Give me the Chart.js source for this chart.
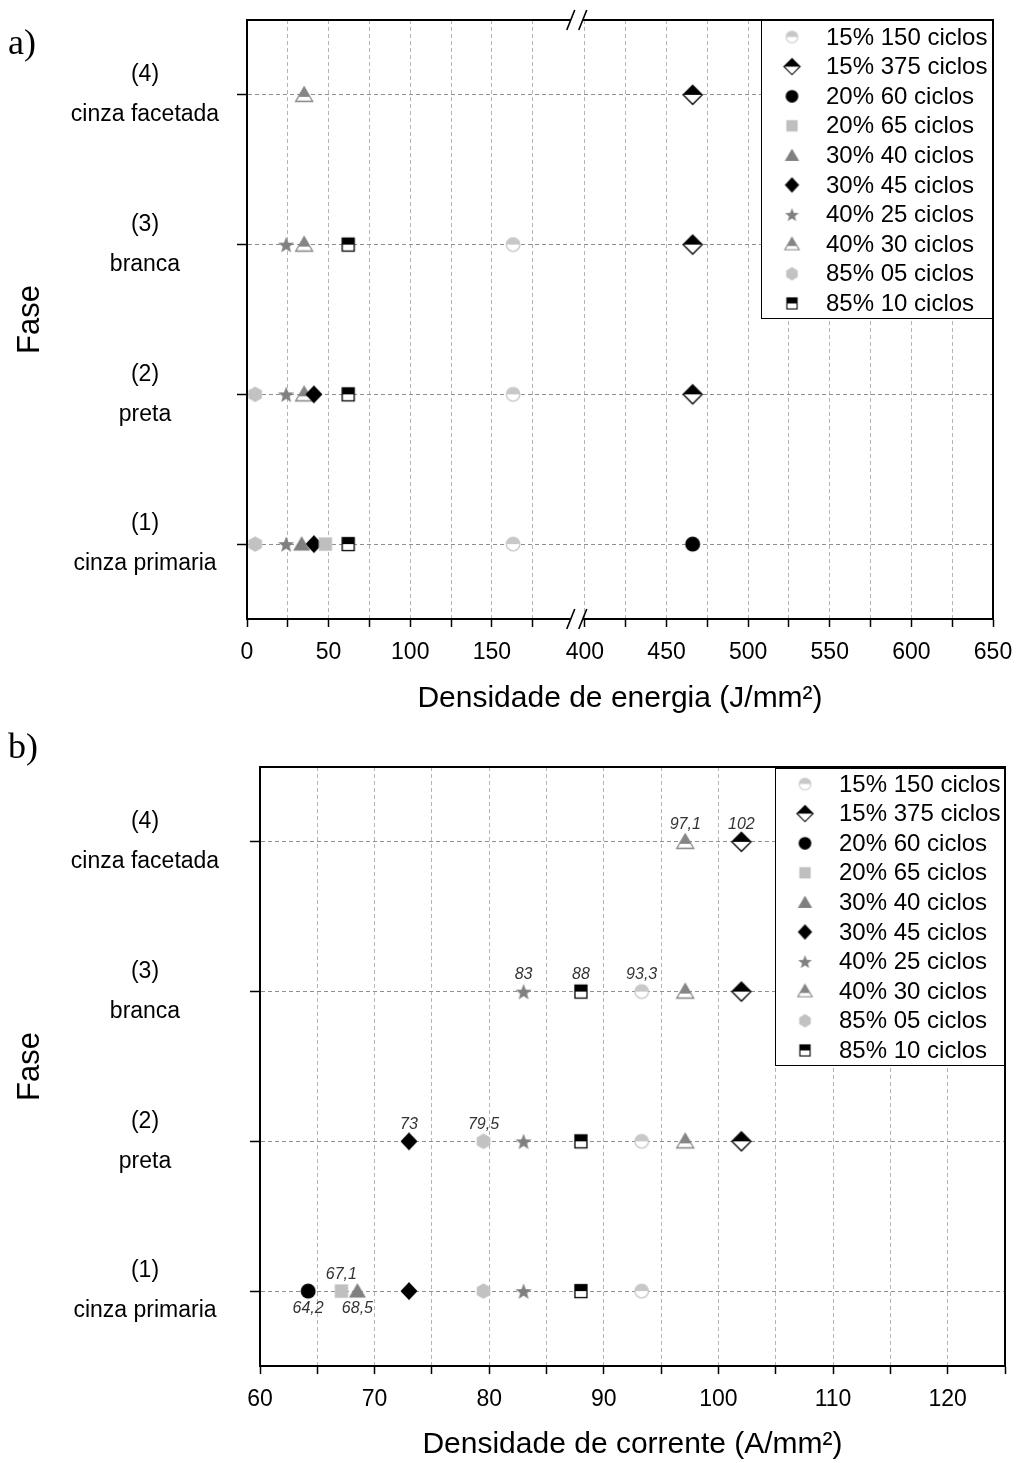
<!DOCTYPE html>
<html>
<head>
<meta charset="utf-8">
<script src="https://cdn.jsdelivr.net/npm/chart.js@4.4.0/dist/chart.umd.min.js"></script>
<style>
  body { margin: 0; background: #fff; width: 1017px; height: 1463px; position: relative; overflow: hidden; }
  .painel { position: absolute; left: 0; width: 1017px; }
  #pa { top: 0; height: 735px; }
  #pb { top: 735px; height: 728px; }
  .letra { position: absolute; left: 8px; font-family: 'Liberation Serif', 'Times New Roman', serif; font-size: 36px; line-height: 36px; color: #000; }
</style>
</head>
<body>
<div class="painel" id="pa"><canvas id="graficoA"></canvas></div>
<div class="painel" id="pb"><canvas id="graficoB"></canvas></div>
<div class="letra" style="top:24px">a)</div>
<div class="letra" style="top:728px">b)</div>
<script>
// series (amostras)
const series = ['15% 150 ciclos', '15% 375 ciclos', '20% 60 ciclos', '20% 65 ciclos', '30% 40 ciclos',
                '30% 45 ciclos', '40% 25 ciclos', '40% 30 ciclos', '85% 05 ciclos', '85% 10 ciclos'];
// fases 1..4 (rotulos do eixo y)
const fases = [['(1)', 'cinza primaria'], ['(2)', 'preta'], ['(3)', 'branca'], ['(4)', 'cinza facetada']];

// densidade de energia (J/mm²) por fase 1..4, null = sem ponto
const energia = [
  [163, 163, 163, null],
  [null, 466, 466, 466],
  [466, null, null, null],
  [48, null, null, null],
  [33.5, null, null, null],
  [41, 41, null, null],
  [24, 24, 24, null],
  [null, 35, 35, 35],
  [5, 5, null, null],
  [62, 62, 62, null]
];
// densidade de corrente (A/mm²) por fase 1..4
const corrente = [
  [93.3, 93.3, 93.3, null],
  [null, 102, 102, 102],
  [64.2, null, null, null],
  [67.1, null, null, null],
  [68.5, null, null, null],
  [73, 73, null, null],
  [83, 83, 83, null],
  [null, 97.1, 97.1, 97.1],
  [79.5, 79.5, null, null],
  [88, 88, 88, null]
];

const ticksEnergia = [0, 25, 50, 75, 100, 125, 150, 175, 400, 425, 450, 475, 500, 525, 550, 575, 600, 625, 650];
const ticksCorrente = [60, 65, 70, 75, 80, 85, 90, 95, 100, 105, 110, 115, 120, 125];

// pontos com valor escrito no grafico b): [serie, fase]
const rotulosAcima = [[7, 4], [1, 4], [6, 3], [9, 3], [0, 3], [5, 2], [8, 2], [3, 1]];
const rotulosAbaixo = [[2, 1], [4, 1]];

// eixo quebrado: 175 -> 400
const DESLOC = 193;
const eixoE = v => v >= 400 ? v - DESLOC : v;
const inversoE = v => v > 204 ? v + DESLOC : v;

const estilos = [
  { forma: 'circuloMeio', cor: '#c8c8c8' },
  { forma: 'losangoMeio', cor: '#000' },
  { forma: 'circulo', cor: '#000' },
  { forma: 'quadrado', cor: '#bfbfbf' },
  { forma: 'triangulo', cor: '#808080' },
  { forma: 'losango', cor: '#000' },
  { forma: 'estrela', cor: '#808080' },
  { forma: 'trianguloMeio', cor: '#858585' },
  { forma: 'hexagono', cor: '#c2c2c2' },
  { forma: 'quadradoMeio', cor: '#000' }
];

const fonte = "'Liberation Sans', Arial, sans-serif";
Chart.defaults.font.family = fonte;
Chart.defaults.color = '#000';

function criarMarcador(estilo, k) {
  const t = Math.ceil(24 * k);
  const c = document.createElement('canvas');
  c.width = c.height = t;
  const g = c.getContext('2d');
  g.translate(t / 2, t / 2);
  g.scale(k, k);
  const cor = estilo.cor;
  g.lineWidth = 1.3;
  g.strokeStyle = cor;
  g.fillStyle = cor;
  const caminho = pts => {
    g.beginPath();
    pts.forEach((p, i) => i ? g.lineTo(p[0], p[1]) : g.moveTo(p[0], p[1]));
    g.closePath();
  };
  switch (estilo.forma) {
    case 'circulo':
      g.beginPath(); g.arc(0, 0, 7.5, 0, Math.PI * 2); g.fill();
      break;
    case 'circuloMeio':
      g.beginPath(); g.arc(0, 0, 6.8, 0, Math.PI * 2); g.fillStyle = '#fff'; g.fill();
      g.beginPath(); g.arc(0, 0, 6.8, Math.PI, 0); g.closePath(); g.fillStyle = cor; g.fill();
      g.beginPath(); g.arc(0, 0, 6.8, 0, Math.PI * 2); g.stroke();
      break;
    case 'quadrado':
      g.fillRect(-6.7, -6.7, 13.4, 13.4);
      break;
    case 'quadradoMeio':
      g.fillStyle = '#fff'; g.fillRect(-6, -6.5, 12, 13);
      g.fillStyle = cor; g.fillRect(-6, -6.5, 12, 6.5);
      g.strokeRect(-6, -6.5, 12, 13);
      break;
    case 'losango':
      caminho([[0, -9], [8.5, 0], [0, 9], [-8.5, 0]]); g.fill();
      break;
    case 'losangoMeio':
      caminho([[0, -9.5], [9.5, 0], [0, 9.5], [-9.5, 0]]); g.fillStyle = '#fff'; g.fill();
      caminho([[0, -9.5], [9.5, 0], [-9.5, 0]]); g.fillStyle = cor; g.fill();
      caminho([[0, -9.5], [9.5, 0], [0, 9.5], [-9.5, 0]]); g.stroke();
      break;
    case 'triangulo':
      caminho([[0, -8], [8.5, 6.5], [-8.5, 6.5]]); g.fill();
      break;
    case 'trianguloMeio':
      caminho([[0, -8], [8.5, 6.5], [-8.5, 6.5]]); g.fillStyle = '#fff'; g.fill();
      caminho([[0, -8], [5.9, 2], [-5.9, 2]]); g.fillStyle = cor; g.fill();
      caminho([[0, -8], [8.5, 6.5], [-8.5, 6.5]]); g.stroke();
      break;
    case 'estrela': {
      const pts = [];
      for (let i = 0; i < 10; i++) {
        const r = i % 2 ? 3.6 : 8.5;
        const a = -Math.PI / 2 + i * Math.PI / 5;
        pts.push([r * Math.cos(a), r * Math.sin(a) + 0.8]);
      }
      caminho(pts); g.fill();
      break;
    }
    case 'hexagono': {
      const pts = [];
      for (let i = 0; i < 6; i++) {
        const a = -Math.PI / 2 + i * Math.PI / 3;
        pts.push([7.8 * Math.cos(a), 7.8 * Math.sin(a)]);
      }
      caminho(pts); g.fill();
      break;
    }
  }
  return c;
}

const marcadores = estilos.map(e => criarMarcador(e, 1));
const marcadoresLegenda = estilos.map(e => criarMarcador(e, 0.85));

const TAM_Y = 23;
function medir(texto, tam) {
  const g = document.createElement('canvas').getContext('2d');
  g.font = tam + 'px ' + fonte;
  return g.measureText(texto).width;
}
const maiorRotulo = medir('cinza facetada', TAM_Y);

// moldura superior/direita e quebra do eixo
const moldura = {
  id: 'moldura',
  afterDraw(chart, args, opts) {
    const { ctx, chartArea: a } = chart;
    ctx.save();
    ctx.strokeStyle = '#000';
    ctx.lineWidth = 2;
    ctx.beginPath();
    ctx.moveTo(a.left, a.top); ctx.lineTo(a.right, a.top); ctx.lineTo(a.right, a.bottom);
    ctx.stroke();
    if (opts.quebra != null) {
      const xb = chart.scales.x.getPixelForValue(opts.quebra);
      [a.top, a.bottom].forEach(y => {
        ctx.fillStyle = '#fff';
        ctx.fillRect(xb - 6, y - 2, 12, 4);
        ctx.lineWidth = 1.6;
        [-6, 6].forEach(dx => {
          ctx.beginPath();
          ctx.moveTo(xb + dx - 4, y + 10);
          ctx.lineTo(xb + dx + 4, y - 10);
          ctx.stroke();
        });
      });
    }
    ctx.restore();
  }
};

const legendaQuadro = {
  id: 'legendaQuadro',
  afterDraw(chart, args, o) {
    const { ctx, chartArea: a } = chart;
    const x0 = a.right - o.largura, y0 = a.top + o.topo;
    ctx.save();
    ctx.fillStyle = '#fff';
    ctx.fillRect(x0, y0, o.largura, o.altura);
    ctx.strokeStyle = '#000';
    ctx.lineWidth = 1;
    ctx.strokeRect(x0 + 0.5, y0 + 0.5, o.largura - 1, o.altura - 1);
    ctx.font = '24px ' + fonte;
    ctx.fillStyle = '#000';
    ctx.textBaseline = 'middle';
    series.forEach((nome, i) => {
      const y = y0 + o.primeira + i * o.passo;
      const m = marcadoresLegenda[i];
      ctx.drawImage(m, x0 + o.xMarca - m.width / 2, y - m.height / 2);
      ctx.fillText(nome, x0 + o.xTexto, y + 1);
    });
    ctx.restore();
  }
};

const valoresEscritos = {
  id: 'valoresEscritos',
  afterDatasetsDraw(chart, args, o) {
    if (!o.ativo) return;
    const { ctx, scales } = chart;
    ctx.save();
    ctx.font = 'italic 16px ' + fonte;
    ctx.fillStyle = '#333';
    ctx.textAlign = 'center';
    ctx.textBaseline = 'middle';
    const escrever = (lista, dy) => lista.forEach(([s, f]) => {
      const v = corrente[s][f - 1];
      const x = scales.x.getPixelForValue(v);
      const y = scales.y.getPixelForValue(f) + dy;
      ctx.fillText(String(v).replace('.', ','), x, y);
    });
    escrever(rotulosAcima, -17);
    escrever(rotulosAbaixo, 17);
    ctx.restore();
  }
};

function semFolga(s) {
  s.paddingTop = 0; s.paddingBottom = 0; s.paddingLeft = 0; s.paddingRight = 0;
}

function montarGrafico(id, cfg) {
  const datasets = series.map((nome, i) => ({
    label: nome,
    data: cfg.valores[i]
      .map((v, f) => v === null ? null : { x: cfg.transformar(v), y: f + 1 })
      .filter(p => p),
    pointStyle: marcadores[i],
    pointRadius: 8,
    showLine: false
  }));
  return new Chart(document.getElementById(id), {
    type: 'scatter',
    data: { datasets },
    options: {
      responsive: true,
      maintainAspectRatio: false,
      animation: false,
      events: [],
      layout: { padding: cfg.margens },
      scales: {
        x: {
          type: 'linear',
          min: cfg.min,
          max: cfg.max,
          afterBuildTicks: s => { s.ticks = cfg.ticks.map(v => ({ value: cfg.transformar(v) })); },
          afterFit: s => { s.height = cfg.alturaX; semFolga(s); },
          ticks: {
            autoSkip: false,
            maxRotation: 0,
            padding: 12,
            font: { size: 23 },
            color: '#000',
            callback: v => {
              const real = Math.round(cfg.inverter(v));
              return real % cfg.passoRotulo === 0 ? String(real) : '';
            }
          },
          grid: { color: '#b4b4b4', tickColor: '#000', tickLength: 8, tickWidth: 1.5, tickBorderDash: [] },
          border: { color: '#000', width: 2, dash: [4, 3] },
          title: {
            display: true, text: cfg.tituloX, color: '#000',
            font: { size: 30 }, padding: { top: 0, bottom: cfg.folgaTitulo }
          }
        },
        y: {
          min: 0.5,
          max: 4.5,
          afterBuildTicks: s => { s.ticks = [1, 2, 3, 4].map(v => ({ value: v })); },
          afterFit: s => { s.width = cfg.larguraY; semFolga(s); },
          ticks: {
            autoSkip: false,
            crossAlign: 'center',
            padding: cfg.esquerda - 10 - 145 - maiorRotulo / 2,
            font: { size: TAM_Y, lineHeight: 40 / TAM_Y },
            color: '#000',
            callback: v => fases[Math.round(v) - 1]
          },
          grid: { color: '#909090', tickColor: '#000', tickLength: 10, tickWidth: 1.5, tickBorderDash: [] },
          border: { color: '#000', width: 2, dash: [4, 3] },
          title: {
            display: true, text: 'Fase', color: '#000',
            font: { size: 31 }, padding: { top: 0, bottom: 0 }
          }
        }
      },
      plugins: {
        legend: { display: false },
        tooltip: { enabled: false },
        moldura: { quebra: cfg.quebra },
        legendaQuadro: cfg.legenda,
        valoresEscritos: { ativo: cfg.escritos }
      }
    },
    plugins: [moldura, valoresEscritos, legendaQuadro]
  });
}

montarGrafico('graficoA', {
  valores: energia,
  transformar: eixoE,
  inverter: inversoE,
  min: 0,
  max: 650 - DESLOC,
  ticks: ticksEnergia,
  passoRotulo: 50,
  quebra: 202,
  tituloX: 'Densidade de energia (J/mm²)',
  folgaTitulo: 18,
  esquerda: 247,
  larguraY: 247 - 12,
  alturaX: 735 - 619,
  margens: { left: 12, top: 20, right: 24, bottom: 0 },
  escritos: false,
  legenda: { largura: 232, altura: 299, topo: 0, primeira: 17, passo: 29.6, xMarca: 31, xTexto: 65 }
});

montarGrafico('graficoB', {
  valores: corrente,
  transformar: v => v,
  inverter: v => v,
  min: 60,
  max: 125,
  ticks: ticksCorrente,
  passoRotulo: 10,
  quebra: null,
  tituloX: 'Densidade de corrente (A/mm²)',
  folgaTitulo: 0,
  esquerda: 260,
  larguraY: 260 - 12,
  alturaX: 728 - 631,
  margens: { left: 12, top: 32, right: 12, bottom: 0 },
  escritos: true,
  legenda: { largura: 230, altura: 298, topo: 1, primeira: 16, passo: 29.6, xMarca: 30, xTexto: 64 }
});
</script>
</body>
</html>
